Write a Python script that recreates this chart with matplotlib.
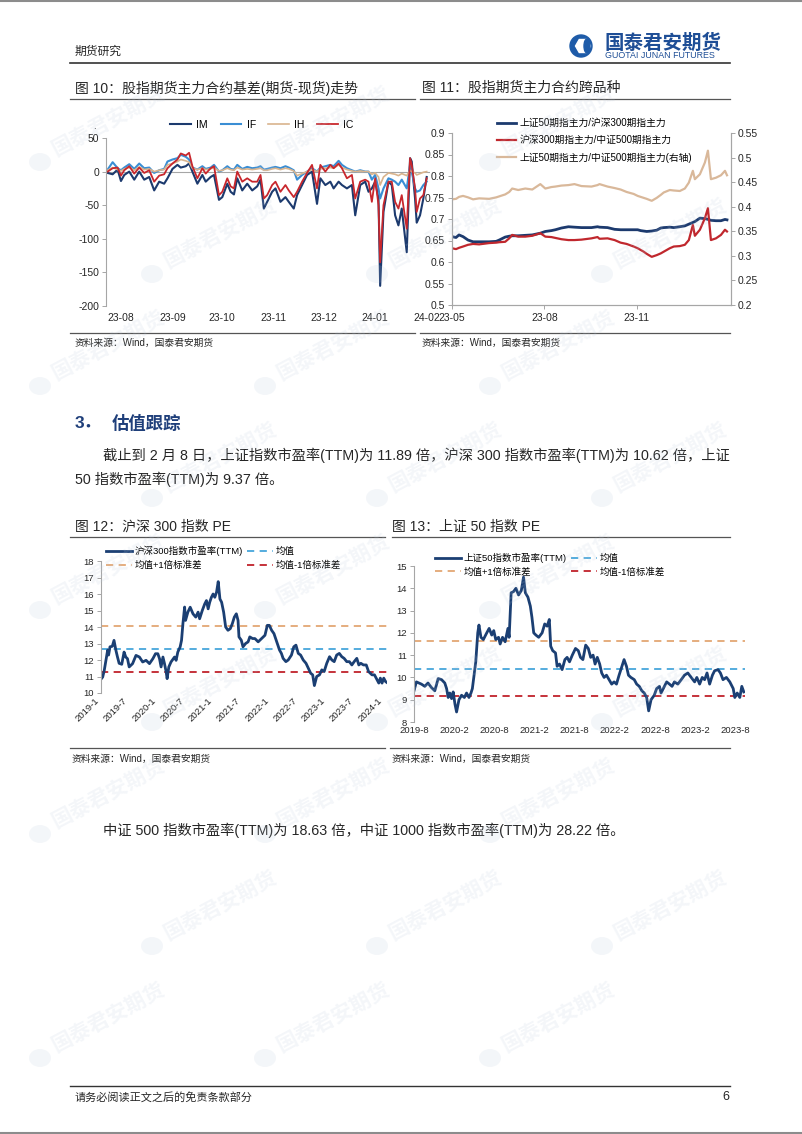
import matplotlib
matplotlib.use("Agg")
import matplotlib.pyplot as plt
import matplotlib.dates as mdates
from matplotlib.patches import Circle, RegularPolygon, Ellipse
from matplotlib.ticker import FuncFormatter
import numpy as np
import pandas as pd

plt.rcParams['font.family'] = ['Liberation Sans', 'Noto Sans CJK SC', 'DejaVu Sans']
plt.rcParams['axes.unicode_minus'] = False

# ---- 图10 基差 (期货-现货) ----
basis_dates = [
    "2023-07-24", "2023-07-27", "2023-07-30", "2023-08-01", "2023-08-03", "2023-08-06", "2023-08-09",
    "2023-08-12", "2023-08-15", "2023-08-18", "2023-08-21", "2023-08-24", "2023-08-27", "2023-08-29",
    "2023-09-01", "2023-09-04", "2023-09-06", "2023-09-09", "2023-09-11", "2023-09-13", "2023-09-16",
    "2023-09-19", "2023-09-21", "2023-09-24", "2023-09-26", "2023-09-29", "2023-10-01", "2023-10-04",
    "2023-10-06", "2023-10-08", "2023-10-10", "2023-10-13", "2023-10-16", "2023-10-19", "2023-10-22",
    "2023-10-24", "2023-10-26", "2023-10-28", "2023-10-31", "2023-11-02", "2023-11-05", "2023-11-08",
    "2023-11-10", "2023-11-13", "2023-11-15", "2023-11-18", "2023-11-21", "2023-11-24", "2023-11-27",
    "2023-11-29", "2023-12-02", "2023-12-05", "2023-12-07", "2023-12-10", "2023-12-12", "2023-12-15",
    "2023-12-18", "2023-12-20", "2023-12-23", "2023-12-26", "2023-12-28", "2023-12-30", "2024-01-01",
    "2024-01-03", "2024-01-04", "2024-01-06", "2024-01-09", "2024-01-11", "2024-01-13", "2024-01-15",
    "2024-01-17", "2024-01-20", "2024-01-22", "2024-01-23", "2024-01-25", "2024-01-26", "2024-01-28",
    "2024-01-30", "2024-02-01"]
im_basis = [-2, -4, 3, -14, -5, 0, -12, 0, -12, -8, -28, -15, -18, -10,
            4, 10, 6, 8, 12, 0, -18, -5, -15, -8, -5, -42, -38, -18,
            -30, -34, -10, -28, -18, -28, -22, -12, -55, -45, -30, -25, -45, -38,
            -45, -55, -35, -20, -5, 0, -48, -10, -20, -15, -25, -15, -20, -25,
            -20, -65, -20, -15, -30, -25, -15, -40, -170, -60, -15, -20, -65, -80,
            -55, -120, 20, 15, -40, -76, -65, -40, -8]
if_basis = [3, 14, 5, 2, 6, 11, 4, 12, 5, 6, -2, 2, 4, 15,
            18, 20, 25, 22, 18, 6, 3, 8, 4, 6, 10, 0, 2, 8,
            4, 3, 10, 4, 7, 5, 6, 8, 3, 4, 6, 7, 5, 8,
            6, 2, -12, -5, 0, 5, 0, 6, 8, 10, 8, 16, 10, 5,
            2, 0, 2, 0, 0, -12, -5, -25, -40, -25, -10, -12, -15, -20,
            -12, -25, 10, 0, -25, -30, -28, -20, -15]
ih_basis = [2, 6, 3, 1, 4, 6, 2, 7, 3, 4, 0, 2, 3, 10,
            12, 15, 18, 16, 14, 5, 3, 5, 3, 4, 6, 1, 2, 5,
            3, 2, 6, 3, 4, 3, 4, 5, 2, 2, 4, 5, 3, 5,
            4, 1, -6, -3, 0, 3, 0, 4, 5, 6, 5, 10, 6, 3,
            1, 0, 1, 0, 0, -4, -2, -8, -20, -8, -2, -3, -4, -6,
            -3, -6, 2, 0, -2, -5, -3, -1, 0]
ic_basis = [0, 5, 6, -6, 2, 8, -3, 6, -2, 2, -15, -6, -4, 5,
            12, 18, 27, 24, 28, 8, -10, 5, -3, 5, 8, -35, -30, -10,
            -22, -25, 0, -15, -10, -15, -15, -5, -40, -35, -20, -15, -30, -20,
            -28, -38, -30, -15, -2, 10, -25, 10, 0, 10, 5, 12, 5, -10,
            -5, -40, -15, -12, -15, -45, -10, -50, -135, -50, -15, -15, -45, -55,
            -35, -85, 20, 10, -25, -60, -40, -35, -10]

# ---- 图11 跨品种比值 ----
ratio_dates = [
    "2023-05-01", "2023-05-05", "2023-05-08", "2023-05-12", "2023-05-17", "2023-05-22", "2023-05-28",
    "2023-06-07", "2023-06-14", "2023-06-17", "2023-06-23", "2023-06-27", "2023-06-30", "2023-07-06",
    "2023-07-13", "2023-07-20", "2023-07-28", "2023-08-02", "2023-08-08", "2023-08-12", "2023-08-18",
    "2023-08-25", "2023-08-31", "2023-09-07", "2023-09-17", "2023-09-23", "2023-09-25", "2023-10-03",
    "2023-10-10", "2023-10-16", "2023-10-22", "2023-10-29", "2023-11-02", "2023-11-05", "2023-11-08",
    "2023-11-11", "2023-11-16", "2023-11-21", "2023-11-25", "2023-11-28", "2023-12-04", "2023-12-08",
    "2023-12-14", "2023-12-19", "2023-12-23", "2023-12-27", "2023-12-29", "2024-01-03", "2024-01-08",
    "2024-01-11", "2024-01-14", "2024-01-19", "2024-01-24", "2024-01-28", "2024-01-30"]
sz50_hs300 = [0.659, 0.657, 0.663, 0.659, 0.651, 0.647, 0.647, 0.647, 0.648, 0.651,
              0.658, 0.660, 0.661, 0.661, 0.662, 0.663, 0.667, 0.671, 0.673, 0.675,
              0.679, 0.682, 0.681, 0.680, 0.680, 0.682, 0.681, 0.680, 0.676, 0.675,
              0.675, 0.675, 0.675, 0.673, 0.672, 0.671, 0.672, 0.674, 0.679, 0.680,
              0.681, 0.680, 0.682, 0.684, 0.688, 0.692, 0.694, 0.702, 0.701, 0.699,
              0.697, 0.696, 0.696, 0.699, 0.698]
hs300_zz500 = [0.632, 0.630, 0.633, 0.636, 0.640, 0.642, 0.641, 0.644, 0.645, 0.646,
               0.647, 0.655, 0.663, 0.659, 0.659, 0.661, 0.667, 0.659, 0.658, 0.656,
               0.653, 0.651, 0.651, 0.652, 0.655, 0.658, 0.654, 0.655, 0.651, 0.645,
               0.642, 0.636, 0.632, 0.628, 0.624, 0.619, 0.612, 0.616, 0.620, 0.624,
               0.632, 0.636, 0.637, 0.640, 0.651, 0.686, 0.661, 0.675, 0.702, 0.725,
               0.651, 0.655, 0.663, 0.675, 0.671]
sz50_zz500 = [0.415, 0.416, 0.420, 0.422, 0.419, 0.415, 0.417, 0.416, 0.419, 0.421,
              0.425, 0.430, 0.437, 0.434, 0.437, 0.435, 0.446, 0.437, 0.440, 0.441,
              0.443, 0.444, 0.446, 0.442, 0.441, 0.444, 0.446, 0.441, 0.438, 0.435,
              0.430, 0.426, 0.422, 0.420, 0.418, 0.416, 0.412, 0.418, 0.424, 0.429,
              0.434, 0.433, 0.432, 0.437, 0.449, 0.473, 0.456, 0.466, 0.490, 0.514,
              0.456, 0.459, 0.464, 0.473, 0.464]

# ---- 图12 沪深300 PE ----
hs300_dates = [
    "2019-01-02", "2019-01-12", "2019-01-22", "2019-02-13", "2019-02-19", "2019-02-28", "2019-03-15",
    "2019-03-26", "2019-04-07", "2019-04-17", "2019-04-28", "2019-05-15", "2019-05-30", "2019-06-10",
    "2019-06-21", "2019-07-02", "2019-07-24", "2019-08-15", "2019-09-06", "2019-09-27", "2019-10-19",
    "2019-11-10", "2019-12-02", "2019-12-19", "2020-01-03", "2020-01-14", "2020-01-24", "2020-02-05",
    "2020-02-15", "2020-02-26", "2020-03-03", "2020-03-14", "2020-03-28", "2020-04-20", "2020-04-30",
    "2020-05-11", "2020-05-26", "2020-06-04", "2020-06-13", "2020-06-24", "2020-06-30", "2020-07-15",
    "2020-07-30", "2020-08-17", "2020-09-04", "2020-09-19", "2020-09-29", "2020-10-16", "2020-11-01",
    "2020-11-12", "2020-11-23", "2020-12-03", "2020-12-14", "2020-12-25", "2021-01-05", "2021-01-16",
    "2021-01-27", "2021-02-07", "2021-02-18", "2021-03-03", "2021-03-16", "2021-03-31", "2021-04-15",
    "2021-04-28", "2021-05-11", "2021-05-24", "2021-06-04", "2021-06-10", "2021-06-25", "2021-07-06",
    "2021-07-23", "2021-08-08", "2021-08-19", "2021-09-06", "2021-09-21", "2021-10-12", "2021-11-03",
    "2021-11-25", "2021-12-10", "2021-12-23", "2022-01-07", "2022-01-22", "2022-02-09", "2022-02-27",
    "2022-03-11", "2022-03-22", "2022-04-09", "2022-04-24", "2022-05-15", "2022-05-30", "2022-06-13",
    "2022-06-28", "2022-07-13", "2022-07-30", "2022-08-17", "2022-09-01", "2022-09-16", "2022-09-29",
    "2022-10-10", "2022-10-25", "2022-11-12", "2022-11-27", "2022-12-12", "2022-12-29", "2023-01-16",
    "2023-01-31", "2023-02-15", "2023-03-03", "2023-03-20", "2023-04-05", "2023-04-20", "2023-05-07",
    "2023-05-24", "2023-06-09", "2023-06-24", "2023-07-11", "2023-07-24", "2023-08-06", "2023-08-23",
    "2023-09-10", "2023-09-25", "2023-10-17", "2023-11-02", "2023-11-19", "2023-11-30", "2023-12-10",
    "2023-12-21", "2024-01-01", "2024-01-12", "2024-01-19"]
hs300_pe = [10.85, 10.97, 11.37, 12.6, 12.3, 12.8, 12.83, 13.19, 12.6, 12.2, 11.8, 11.74, 12.48, 12.18,
            12.08, 11.58, 11.78, 12.28, 12.18, 11.88, 11.98, 11.78, 12.08, 12.38, 12.38, 12.08, 11.58, 12.18,
            11.78, 11.27, 10.87, 11.58, 11.88, 12.18, 11.98, 12.48, 12.79, 13.19, 14.2, 15.21, 14.4, 14.9,
            15.2, 14.8, 14.6, 14.9, 14.5, 15.0, 15.4, 15.6, 15.1, 15.5, 15.8, 16.0, 15.8, 16.1,
            16.75, 15.7, 15.5, 14.9, 14.0, 13.8, 13.9, 14.2, 14.6, 14.8, 14.4, 13.4, 13.2, 12.8,
            13.0, 13.1, 13.4, 13.3, 13.3, 13.1, 13.3, 13.5, 14.1, 14.1, 13.8, 13.6, 13.1, 12.6,
            12.4, 12.1, 11.9, 12.0, 12.3, 12.8, 12.9, 12.4, 12.3, 12.0, 11.8, 11.5, 11.2, 11.1,
            10.45, 11.0, 11.1, 11.4, 11.3, 11.8, 12.2, 12.0, 11.9, 12.3, 12.4, 12.2, 12.1, 11.9,
            11.9, 11.7, 11.9, 12.1, 11.7, 11.8, 11.7, 11.7, 11.3, 11.1, 11.1, 10.8, 10.6, 10.9,
            10.6, 10.9, 10.7, 10.65]
hs300_mean, hs300_up, hs300_dn = 12.65, 14.05, 11.3
hs300_ticklabels = ["2019-1", "2019-7", "2020-1", "2020-7", "2021-1", "2021-7",
                    "2022-1", "2022-7", "2023-1", "2023-7", "2024-1"]

# ---- 图13 上证50 PE ----
sz50_dates = [
    "2019-08-01", "2019-08-13", "2019-09-07", "2019-09-24", "2019-10-10", "2019-10-27", "2019-11-13",
    "2019-11-30", "2019-12-17", "2020-01-02", "2020-01-11", "2020-01-19", "2020-01-27", "2020-02-05",
    "2020-02-13", "2020-02-22", "2020-03-01", "2020-03-13", "2020-03-26", "2020-04-09", "2020-04-20",
    "2020-05-02", "2020-05-12", "2020-05-19", "2020-05-29", "2020-06-05", "2020-06-15", "2020-06-21",
    "2020-07-01", "2020-07-13", "2020-07-30", "2020-08-11", "2020-08-24", "2020-09-03", "2020-09-13",
    "2020-09-27", "2020-10-05", "2020-10-17", "2020-10-30", "2020-11-13", "2020-11-19", "2020-11-29",
    "2020-12-11", "2020-12-23", "2021-01-05", "2021-01-19", "2021-01-30", "2021-02-08", "2021-02-21",
    "2021-03-05", "2021-03-13", "2021-03-22", "2021-04-02", "2021-04-16", "2021-05-03", "2021-05-16",
    "2021-05-28", "2021-06-08", "2021-06-15", "2021-06-25", "2021-07-09", "2021-07-17", "2021-07-29",
    "2021-08-11", "2021-08-25", "2021-09-05", "2021-09-17", "2021-10-01", "2021-10-17", "2021-10-31",
    "2021-11-11", "2021-11-23", "2021-12-07", "2021-12-20", "2022-01-01", "2022-01-13", "2022-01-23",
    "2022-02-03", "2022-02-15", "2022-02-25", "2022-03-09", "2022-03-21", "2022-04-03", "2022-04-16",
    "2022-04-28", "2022-05-10", "2022-05-23", "2022-06-06", "2022-06-17", "2022-06-29", "2022-07-09",
    "2022-07-21", "2022-08-07", "2022-08-19", "2022-09-01", "2022-09-14", "2022-09-26", "2022-10-08",
    "2022-10-18", "2022-10-30", "2022-11-15", "2022-11-27", "2022-12-11", "2022-12-19", "2023-01-05",
    "2023-01-16", "2023-01-30", "2023-02-12", "2023-02-24", "2023-03-13", "2023-03-30", "2023-04-15",
    "2023-05-02", "2023-05-19", "2023-06-05", "2023-06-16", "2023-06-30", "2023-07-13", "2023-07-25",
    "2023-08-06", "2023-08-19", "2023-09-02", "2023-09-13", "2023-09-30", "2023-10-12", "2023-10-25",
    "2023-11-11", "2023-11-28", "2023-12-15", "2023-12-23", "2024-01-04", "2024-01-17", "2024-01-27",
    "2024-02-06"]
sz50_pe = [9.4, 9.8, 9.7, 9.6, 9.75, 9.55, 9.4, 9.95, 9.9, 9.75, 9.5, 9.1, 9.3, 9.05,
           9.35, 8.8, 8.45, 9.0, 9.2, 9.1, 9.3, 9.1, 9.3, 9.5, 10.2, 10.7, 12.0, 12.35,
           11.8, 11.7, 12.0, 12.2, 11.9, 12.1, 11.7, 11.8, 11.5, 11.8, 11.6, 12.2, 11.8, 13.8,
           13.85, 14.0, 13.7, 13.9, 14.5, 13.8, 13.6, 13.2, 12.7, 12.0, 11.9, 11.8, 12.0, 12.4,
           12.3, 12.6, 11.4, 11.2, 11.1, 10.5, 10.6, 10.35, 10.8, 10.9, 10.7, 11.0, 11.3, 11.2,
           10.9, 10.8, 11.45, 11.3, 10.9, 11.0, 10.6, 10.9, 10.6, 10.2, 10.0, 10.1, 9.9, 9.7,
           9.8, 9.7, 10.1, 10.5, 10.8, 10.5, 10.1, 10.0, 9.9, 9.7, 9.6, 9.4, 9.3, 9.1,
           8.5, 9.0, 9.2, 9.5, 9.6, 9.3, 9.6, 9.8, 9.7, 9.6, 9.8, 9.7, 9.9, 10.1,
           10.2, 10.0, 9.8, 10.0, 9.7, 10.0, 9.9, 10.2, 9.7, 10.1, 10.3, 10.35, 10.2, 9.9,
           10.0, 9.8, 9.5, 9.1, 9.3, 9.1, 9.6, 9.35]
sz50_mean, sz50_up, sz50_dn = 10.38, 11.65, 9.15
sz50_ticklabels = ["2019-8", "2020-2", "2020-8", "2021-2", "2021-8",
                   "2022-2", "2022-8", "2023-2", "2023-8"]

W, H = 802, 1134
fig = plt.figure(figsize=(W / 100, H / 100), dpi=100)


def rect(x0, y0, x1, y1):
    return [x0 / W, 1 - y1 / H, (x1 - x0) / W, (y1 - y0) / H]


def fpt(x, y):
    return (x / W, 1 - y / H)


NAVY = '#1C3A6E'
GRID = '#A6A6A6'
TXT = '#262626'

bg = fig.add_axes([0, 0, 1, 1])
bg.set_xlim(0, W)
bg.set_ylim(H, 0)
bg.axis('off')

# page frame lines
bg.plot([0, W], [1, 1], color='#8c8c8c', lw=1.5)
bg.plot([0, W], [1133, 1133], color='#8c8c8c', lw=1.5)

# header
bg.text(75, 52, '期货研究', fontsize=8.5, color=TXT, va='center')
bg.plot([70, 730], [63, 63], color='#333333', lw=1.2)
bg.add_patch(Circle((581, 46), 11, color='#1E5BA8'))
bg.add_patch(RegularPolygon((583, 46), 6, radius=7.5, orientation=np.pi / 6, color='white'))
bg.add_patch(Ellipse((587, 46), 6, 14, color='#1E5BA8'))
bg.text(604, 43, '国泰君安期货', fontsize=14, fontweight='bold', color='#1E4E96', va='center')
bg.text(605, 56, 'GUOTAI JUNAN FUTURES', fontsize=6.4, color='#1E4E96', va='center')

# chart titles / rules
bg.text(75, 88, '图 10：股指期货主力合约基差(期货-现货)走势', fontsize=10, color=TXT, va='center')
bg.text(422, 88, '图 11：股指期货主力合约跨品种', fontsize=10, color=TXT, va='center')
bg.plot([70, 415], [99, 99], color='#555555', lw=0.9)
bg.plot([420, 730], [99, 99], color='#555555', lw=0.9)
bg.plot([70, 415], [333, 333], color='#555555', lw=0.9)
bg.plot([420, 730], [333, 333], color='#555555', lw=0.9)
bg.text(75, 343, '资料来源：Wind，国泰君安期货', fontsize=7, color=TXT, va='center')
bg.text(422, 343, '资料来源：Wind，国泰君安期货', fontsize=7, color=TXT, va='center')

bg.text(75, 423, '3．', fontsize=12.5, color='#1F3F7A', va='center', fontweight='bold')
bg.text(112, 423, '估值跟踪', fontsize=12.5, color='#1F3F7A', va='center', fontweight='bold')
bg.text(103, 455, '截止到 2 月 8 日，上证指数市盈率(TTM)为 11.89 倍，沪深 300 指数市盈率(TTM)为 10.62 倍，上证',
        fontsize=10.3, color=TXT, va='center')
bg.text(75, 479, '50 指数市盈率(TTM)为 9.37 倍。', fontsize=10.3, color=TXT, va='center')

bg.text(75, 527, '图 12：沪深 300 指数 PE', fontsize=10, color=TXT, va='center')
bg.text(392, 527, '图 13：上证 50 指数 PE', fontsize=10, color=TXT, va='center')
bg.plot([70, 385], [537, 537], color='#555555', lw=0.9)
bg.plot([392, 730], [537, 537], color='#555555', lw=0.9)
bg.plot([70, 385], [748, 748], color='#555555', lw=0.9)
bg.plot([390, 730], [748, 748], color='#555555', lw=0.9)
bg.text(72, 759, '资料来源：Wind，国泰君安期货', fontsize=7, color=TXT, va='center')
bg.text(392, 759, '资料来源：Wind，国泰君安期货', fontsize=7, color=TXT, va='center')

bg.text(103, 830, '中证 500 指数市盈率(TTM)为 18.63 倍，中证 1000 指数市盈率(TTM)为 28.22 倍。',
        fontsize=10.3, color=TXT, va='center')

# footer
bg.plot([70, 730], [1086, 1086], color='#333333', lw=1.0)
bg.text(75, 1097, '请务必阅读正文之后的免责条款部分', fontsize=8, color=TXT, va='center')
bg.text(722, 1097, '6', fontsize=9, color=TXT, va='center')


def style_left(ax, size=7.5):
    for s in ['top', 'right', 'bottom']:
        ax.spines[s].set_visible(False)
    ax.spines['left'].set_color(GRID)
    ax.spines['left'].set_linewidth(0.8)
    ax.tick_params(axis='y', length=3, width=0.7, color=GRID, labelsize=size, labelcolor=TXT, pad=2)
    ax.tick_params(axis='x', length=0, labelsize=size, labelcolor=TXT)
    ax.patch.set_alpha(0)


# ---- chart 10 ----
ax1 = fig.add_axes(rect(106, 138, 430, 306))
d10 = pd.to_datetime(basis_dates)
ax1.axhline(0, color=GRID, lw=0.8, zorder=0)
ax1.plot(d10, im_basis, color=NAVY, lw=1.5, label='IM')
ax1.plot(d10, if_basis, color='#3A8ED4', lw=1.5, label='IF')
ax1.plot(d10, ih_basis, color='#D9B48E', lw=1.2, label='IH')
ax1.plot(d10, ic_basis, color='#C8272D', lw=1.3, label='IC')
ax1.set_ylim(-200, 50)
ax1.set_yticks(range(-200, 51, 50))
ax1.set_xlim(pd.Timestamp('2023-07-23'), pd.Timestamp('2024-02-03'))
ax1.xaxis.set_major_locator(mdates.MonthLocator())
ax1.xaxis.set_major_formatter(mdates.DateFormatter('%y-%m'))
style_left(ax1, 7.5)
ax1.tick_params(axis='x', pad=5)
ax1.legend(loc='center', bbox_to_anchor=fpt(262, 125), bbox_transform=fig.transFigure, ncol=4,
           frameon=False, fontsize=7.5, handlelength=2.0, handletextpad=0.5, columnspacing=1.2,
           borderpad=0, borderaxespad=0)
bg.text(93, 126, '.', fontsize=7, color=TXT, va='center')

# ---- chart 11 ----
ax2 = fig.add_axes(rect(452, 133, 731, 305))
axr = ax2.twinx()
d11 = pd.to_datetime(ratio_dates)
l1, = ax2.plot(d11, sz50_hs300, color=NAVY, lw=2.0, label='上证50期指主力/沪深300期指主力')
l2, = ax2.plot(d11, hs300_zz500, color='#C0272D', lw=1.6, label='沪深300期指主力/中证500期指主力')
l3, = axr.plot(d11, sz50_zz500, color='#D9B89A', lw=1.6, label='上证50期指主力/中证500期指主力(右轴)')
ax2.set_ylim(0.5, 0.9)
ax2.set_yticks(np.arange(0.5, 0.901, 0.05))
axr.set_ylim(0.2, 0.55)
axr.set_yticks(np.arange(0.2, 0.551, 0.05))
fmt = FuncFormatter(lambda v, _: f'{round(v, 2):g}')
ax2.yaxis.set_major_formatter(fmt)
axr.yaxis.set_major_formatter(fmt)
ax2.set_xlim(pd.Timestamp('2023-05-01'), pd.Timestamp('2024-02-03'))
ax2.set_xticks(pd.to_datetime(['2023-05-01', '2023-08-01', '2023-11-01']))
ax2.xaxis.set_major_formatter(mdates.DateFormatter('%y-%m'))
for a in (ax2, axr):
    a.spines['top'].set_visible(False)
    for s in ['left', 'right', 'bottom']:
        a.spines[s].set_color(GRID)
        a.spines[s].set_linewidth(0.8)
    a.tick_params(axis='y', length=3, width=0.7, color=GRID, labelsize=7.5, labelcolor=TXT, pad=2)
    a.patch.set_alpha(0)
ax2.tick_params(axis='x', length=3, width=0.7, color=GRID, labelsize=7.5, labelcolor=TXT, pad=3)
axr.legend(handles=[l1, l2, l3], loc='upper left', bbox_to_anchor=fpt(497, 118),
           bbox_transform=fig.transFigure, frameon=False, fontsize=7, handlelength=2.0,
           handletextpad=0.3, labelspacing=0.75, borderpad=0, borderaxespad=0)


def pe_chart(rc, dates, pe, mean, up, dn, ylim, ticks, ticklabels, rot, leg_anchor, colsp, name):
    ax = fig.add_axes(rc)
    dd = pd.to_datetime(dates)
    hl_up = ax.axhline(up, color='#E3A774', lw=1.3, ls=(0, (4, 3)), label='均值+1倍标准差')
    hl_m = ax.axhline(mean, color='#46A6DB', lw=1.3, ls=(0, (4, 3)), label='均值')
    hl_dn = ax.axhline(dn, color='#C0222B', lw=1.3, ls=(0, (4, 3)), label='均值-1倍标准差')
    ln, = ax.plot(dd, pe, color='#1B3F73', lw=2.0, label=name)
    ax.set_ylim(*ylim)
    ax.set_yticks(range(ylim[0], ylim[1] + 1))
    ax.set_xticks(ticks)
    ax.set_xticklabels(ticklabels)
    style_left(ax, 6.8)
    if rot:
        for lab in ax.get_xticklabels():
            lab.set_rotation(45)
            lab.set_ha('right')
        ax.tick_params(axis='x', pad=2)
    else:
        ax.tick_params(axis='x', pad=3)
    ax.legend(handles=[ln, hl_up, hl_m, hl_dn], ncol=2, loc='upper left', bbox_to_anchor=leg_anchor,
              bbox_transform=fig.transFigure, frameon=False, fontsize=6.8, handlelength=2.7,
              handletextpad=0.3, labelspacing=0.45, columnspacing=colsp, borderpad=0, borderaxespad=0)
    return ax


# ---- chart 12 ----
t12 = pd.date_range('2019-01-01', '2024-01-01', freq='6MS')
ax3 = pe_chart(rect(101, 561, 387, 693), hs300_dates, hs300_pe, hs300_mean, hs300_up, hs300_dn,
               (10, 18), t12, hs300_ticklabels, True, fpt(106, 546), 0.5, '沪深300指数市盈率(TTM)')
ax3.set_xlim(pd.Timestamp('2019-01-01'), pd.Timestamp('2024-01-22'))

# ---- chart 13 ----
t13 = pd.Timestamp('2019-08-01') + pd.to_timedelta(np.arange(len(sz50_ticklabels)) * 201, unit='D')
ax4 = pe_chart(rect(414, 566, 745, 722), sz50_dates, sz50_pe, sz50_mean, sz50_up, sz50_dn,
               (8, 15), t13, sz50_ticklabels, False, fpt(435, 553), 0.5, '上证50指数市盈率(TTM)')
ax4.set_xlim(pd.Timestamp('2019-08-01'), pd.Timestamp('2024-02-12'))

# ---- watermark (faint, kept inside the page) ----
wm = fig.add_axes([0, 0, 1, 1], zorder=20)
wm.set_xlim(0, W)
wm.set_ylim(H, 0)
wm.axis('off')
wm.patch.set_alpha(0)
for k, y in enumerate(range(150, 1060, 112)):
    for j in range(3):
        x = 40 + 225 * j + (k % 2) * 112
        wm.add_patch(Ellipse((x, y + 12), 22, 18, color='#b9c9dc', alpha=0.16, lw=0))
        wm.text(x + 14, y + 2, '国泰君安期货', fontsize=15, fontweight='bold', color='#b9c9dc',
                alpha=0.16, rotation=28, va='center', ha='left', rotation_mode='anchor')

fig.savefig('out.png', dpi=100)
